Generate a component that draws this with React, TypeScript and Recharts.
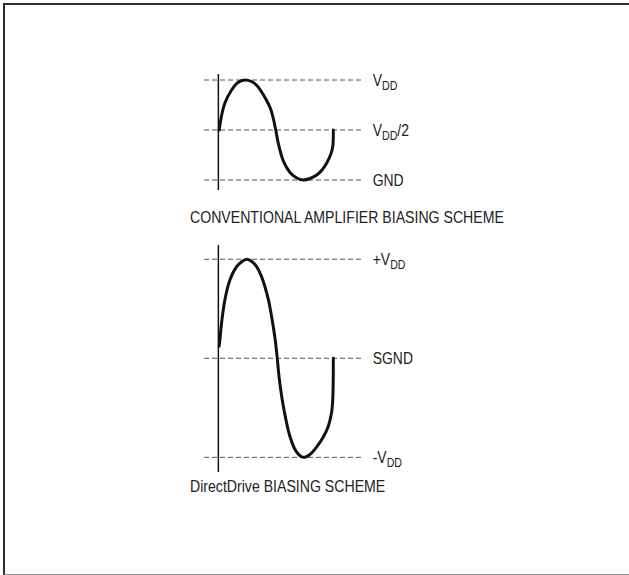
import React from "react";
import { LineChart, Line, XAxis, YAxis, ReferenceLine } from "recharts";

// Phase (degrees) and level values
const topPhase = [2.5, 6.3, 12.5, 20.4, 41.4, 61.1, 83.1, 103.5, 120.7, 136.4, 151.1, 163.1, 170.9, 179.7, 187.5, 202.3, 224.3, 243, 265.9, 286.9, 307.9, 324.6, 339.3, 351.2, 358.1, 359.9, 360];
const topLevel = [0.5, 0.58, 0.68, 0.77, 0.9, 0.975, 1.0, 0.985, 0.945, 0.875, 0.795, 0.715, 0.63, 0.5, 0.37, 0.2, 0.075, 0.025, 0.0, 0.015, 0.05, 0.1, 0.17, 0.25, 0.333, 0.42, 0.5];

const bottomPhase = [2.5, 4.7, 10, 20.4, 36.1, 57.1, 72.1, 89.4, 106.6, 119.8, 133.3, 145.8, 156.8, 166.8, 178.1, 184.4, 191.3, 203.8, 224.2, 243, 265.9, 286.9, 307.9, 327.7, 344.3, 354.4, 358.1, 359.7, 360];
const bottomLevel = [0.124, 0.185, 0.357, 0.59, 0.79, 0.925, 0.973, 1.0, 0.973, 0.925, 0.84, 0.723, 0.59, 0.42, 0.185, 0.0, -0.22, -0.49, -0.79, -0.936, -1.0, -0.97, -0.895, -0.8, -0.685, -0.55, -0.42, -0.22, 0.0];

const topRefLevels = [1, 0.5, 0];
const topRefLabels = [["V", "DD", ""], ["V", "DD", "/2"], ["GND", "", ""]];
const bottomRefLevels = [1, 0, -1];
const bottomRefLabels = [["+V", "DD", ""], ["SGND", "", ""], ["-V", "DD", ""]];

const titles = ["CONVENTIONAL AMPLIFIER BIASING SCHEME", "DirectDrive BIASING SCHEME"];

const topData = topPhase.map((p, i) => ({ phase: p, level: topLevel[i] }));
const bottomData = bottomPhase.map((p, i) => ({ phase: p, level: bottomLevel[i] }));

const FONT = '"Liberation Sans", Arial, sans-serif';
const NARROW = 0.82;

// Centripetal Catmull-Rom curve factory (passes through every point, smooth, handles vertical ends)
const catmullRom: any = (context: any) => {
  let pts: number[][] = [];
  return {
    areaStart() {},
    areaEnd() {},
    lineStart() {
      pts = [];
    },
    point(x: number, y: number) {
      pts.push([+x, +y]);
    },
    lineEnd() {
      const n = pts.length;
      if (!n) return;
      context.moveTo(pts[0][0], pts[0][1]);
      if (n === 1) return;
      const dist = (a: number[], b: number[]) => Math.hypot(b[0] - a[0], b[1] - a[1]);
      for (let i = 0; i < n - 1; i++) {
        const p1 = pts[i];
        const p2 = pts[i + 1];
        const p0 = i > 0 ? pts[i - 1] : [2 * p1[0] - p2[0], 2 * p1[1] - p2[1]];
        const p3 = i + 2 < n ? pts[i + 2] : [2 * p2[0] - p1[0], 2 * p2[1] - p1[1]];
        const l01 = Math.sqrt(dist(p0, p1));
        const l12 = Math.sqrt(dist(p1, p2));
        const l23 = Math.sqrt(dist(p2, p3));
        const l01a = l01 * l01;
        const l12a = l12 * l12;
        const l23a = l23 * l23;
        let c1 = p1;
        let c2 = p2;
        if (l01 > 1e-6) {
          const a = 2 * l01a + 3 * l01 * l12 + l12a;
          const m = 3 * l01 * (l01 + l12);
          c1 = [(p1[0] * a - p0[0] * l12a + p2[0] * l01a) / m, (p1[1] * a - p0[1] * l12a + p2[1] * l01a) / m];
        }
        if (l23 > 1e-6) {
          const b = 2 * l23a + 3 * l23 * l12 + l12a;
          const m = 3 * l23 * (l23 + l12);
          c2 = [(p2[0] * b + p1[0] * l23a - p3[0] * l12a) / m, (p2[1] * b + p1[1] * l23a - p3[1] * l12a) / m];
        }
        context.bezierCurveTo(c1[0], c1[1], c2[0], c2[1], p2[0], p2[1]);
      }
    },
  };
};

const makeLabel = (parts: string[]) => (props: any) => {
  const vb = props.viewBox || {};
  const x = (vb.x || 0) + (vb.width || 0) + 10;
  const y = (vb.y || 0) + 6;
  const [pre, sub, post] = parts;
  return (
    <text transform={`translate(${x},${y}) scale(${NARROW},1)`} x={0} y={0} fontFamily={FONT} fontSize={17} fill="#222">
      <tspan>{pre}</tspan>
      {sub ? <tspan fontSize={13} dy={4}>{sub}</tspan> : null}
      {post ? <tspan dy={-4}>{post}</tspan> : null}
    </text>
  );
};

const XDOMAIN: [number, number] = [-45, 452];

const titleStyle = (top: number): React.CSSProperties => ({
  position: "absolute",
  left: 190,
  top,
  fontFamily: FONT,
  fontSize: 17,
  lineHeight: "17px",
  color: "#222",
  whiteSpace: "nowrap",
  transform: `scaleX(${NARROW + 0.01})`,
  transformOrigin: "0 0",
});

export default function App() {
  return (
    <div style={{ position: "absolute", left: 0, top: 0, width: 629, height: 575, background: "#fff", overflow: "hidden" }}>
      <div
        style={{
          position: "absolute",
          left: 3,
          top: 3,
          width: 626,
          height: 572,
          boxSizing: "border-box",
          borderTop: "2px solid #2e2e2e",
          borderLeft: "2.5px solid #2e2e2e",
          borderBottom: "1.5px solid #8a8a8a",
        }}
      />
      <div style={{ position: "absolute", left: 200, top: 60 }}>
        <LineChart width={300} height={150} data={topData} margin={{ left: 4, right: 137.3, top: 14, bottom: 20 }}>
          <XAxis type="number" dataKey="phase" domain={XDOMAIN} hide allowDataOverflow />
          <YAxis type="number" domain={[-0.1, 1.06]} hide allowDataOverflow />
          {topRefLevels.map((lv, i) => (
            <ReferenceLine
              key={i}
              y={lv}
              stroke="#555"
              strokeWidth={1}
              strokeDasharray="5 3"
              label={makeLabel(topRefLabels[i])}
            />
          ))}
          <ReferenceLine x={0} stroke="#111" strokeWidth={1.5} />
          <Line
            type={catmullRom}
            dataKey="level"
            stroke="#111"
            strokeWidth={3}
            strokeLinecap="round"
            dot={false}
            isAnimationActive={false}
          />
        </LineChart>
      </div>
      <div style={{ position: "absolute", left: 200, top: 235 }}>
        <LineChart width={300} height={250} data={bottomData} margin={{ left: 4, right: 137.3, top: 10, bottom: 13 }}>
          <XAxis type="number" dataKey="phase" domain={XDOMAIN} hide allowDataOverflow />
          <YAxis type="number" domain={[-1.148, 1.144]} hide allowDataOverflow />
          {bottomRefLevels.map((lv, i) => (
            <ReferenceLine
              key={i}
              y={lv}
              stroke="#555"
              strokeWidth={1}
              strokeDasharray="5 3"
              label={makeLabel(bottomRefLabels[i])}
            />
          ))}
          <ReferenceLine x={0} stroke="#111" strokeWidth={1.5} />
          <Line
            type={catmullRom}
            dataKey="level"
            stroke="#111"
            strokeWidth={3}
            strokeLinecap="round"
            dot={false}
            isAnimationActive={false}
          />
        </LineChart>
      </div>
      <div style={titleStyle(208.6)}>{titles[0]}</div>
      <div style={titleStyle(477.6)}>{titles[1]}</div>
    </div>
  );
}
